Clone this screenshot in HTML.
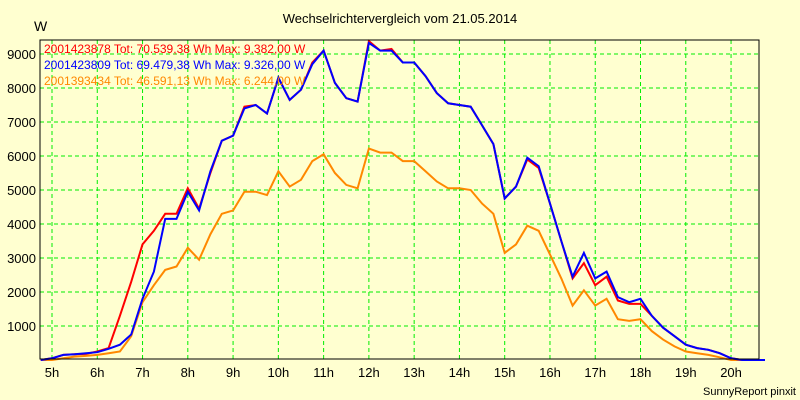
<!DOCTYPE html>
<html><head><meta charset="utf-8"><style>
body{margin:0;background:#ffffd0;}
svg{display:block;font-family:"Liberation Sans",sans-serif;}
</style></head><body>
<svg id="chart" width="800" height="400">
<rect x="0" y="0" width="800" height="400" fill="#ffffd0"/>
<text x="400" y="23" text-anchor="middle" font-size="13" fill="#000">Wechselrichtervergleich vom 21.05.2014</text>
<text x="34" y="31" font-size="14" fill="#000">W</text>
<g id="grid"></g>
<g id="series"></g>
<rect x="40" y="40" width="719" height="319" fill="none" stroke="#000" stroke-width="1"/>
<g id="labels"></g>
<text x="44" y="53" font-size="12" fill="#ff0000">2001423878 Tot: 70.539,38 Wh Max: 9.382,00 W</text>
<text x="44" y="69" font-size="12" fill="#0000ff">2001423809 Tot: 69.479,38 Wh Max: 9.326,00 W</text>
<text x="44" y="85" font-size="12" fill="#ff8800">2001393434 Tot: 46.591,13 Wh Max: 6.244,00 W</text>
<text x="796" y="395" text-anchor="end" font-size="11" fill="#000">SunnyReport pinxit</text>
</svg>
<script>
const startHour = 4.75;
const stepHours = 0.25;
const xTicks = ["5h","6h","7h","8h","9h","10h","11h","12h","13h","14h","15h","16h","17h","18h","19h","20h"];
const yTicks = [1000,2000,3000,4000,5000,6000,7000,8000,9000];
const orangeValues = [0,0,50,100,120,150,200,250,700,1700,2200,2650,2750,3300,2950,3700,4300,4400,4950,4950,4850,5550,5100,5300,5850,6050,5500,5150,5050,6220,6100,6100,5850,5850,5550,5250,5050,5050,5000,4600,4300,3150,3400,3950,3800,3100,2400,1600,2050,1600,1800,1200,1150,1200,850,600,400,250,200,150,80,0,0,0,0];
const redValues = [0,50,150,170,180,250,350,1300,2300,3400,3800,4300,4300,5050,4450,5500,6450,6600,7450,7500,7250,8300,7650,7950,8750,9100,8150,7700,7600,9380,9100,9150,8750,8750,8350,7850,7550,7500,7450,6900,6350,4750,5100,5900,5650,4600,3500,2400,2850,2200,2450,1750,1650,1650,1300,950,700,450,350,300,200,50,0,0,0];
const blueValues = [0,50,150,170,200,230,330,450,750,1800,2600,4150,4150,4950,4400,5550,6450,6600,7400,7500,7250,8300,7650,7950,8700,9100,8150,7700,7600,9326,9100,9100,8750,8750,8350,7850,7550,7500,7450,6900,6350,4750,5100,5950,5700,4600,3500,2450,3150,2400,2600,1850,1700,1800,1300,950,700,450,350,300,200,50,0,0,0];
const NS="http://www.w3.org/2000/svg";
function xScale(h){return 52+(h-5)*45.27;}
function yScale(v){return 360-v*0.034;}
const grid=document.getElementById('grid'), labels=document.getElementById('labels'), series=document.getElementById('series');
xTicks.forEach((t,i)=>{
  const x=xScale(parseInt(t));
  const l=document.createElementNS(NS,'line');
  l.setAttribute('x1',x);l.setAttribute('x2',x);l.setAttribute('y1',40);l.setAttribute('y2',359);
  l.setAttribute('stroke','#00ee00');l.setAttribute('stroke-dasharray','4,3');
  
  
  grid.appendChild(l);
  const tx=document.createElementNS(NS,'text');
  tx.setAttribute('x',x);tx.setAttribute('y',377);tx.setAttribute('text-anchor','middle');tx.setAttribute('font-size','13');
  tx.textContent=t;
  
  
  labels.appendChild(tx);
});
yTicks.forEach(v=>{
  const y=yScale(v);
  const l=document.createElementNS(NS,'line');
  l.setAttribute('x1',40);l.setAttribute('x2',759);l.setAttribute('y1',y);l.setAttribute('y2',y);
  l.setAttribute('stroke','#00ee00');l.setAttribute('stroke-dasharray','4,3');
  
  
  grid.appendChild(l);
  const tx=document.createElementNS(NS,'text');
  tx.setAttribute('x',36);tx.setAttribute('y',y+5);tx.setAttribute('text-anchor','end');tx.setAttribute('font-size','13');
  tx.textContent=v;
  
  
  labels.appendChild(tx);
});
function drawSeries(vals,color,name){
  const pts=vals.map((v,i)=>xScale(startHour+i*stepHours).toFixed(1)+','+yScale(v).toFixed(1)).join(' ');
  const p=document.createElementNS(NS,'polyline');
  p.setAttribute('points',pts);p.setAttribute('fill','none');p.setAttribute('stroke',color);p.setAttribute('stroke-width','2');
  
  
  series.appendChild(p);
}
drawSeries(orangeValues,'#ff8800','series-2001393434');
drawSeries(redValues,'#ff0000','series-2001423878');
drawSeries(blueValues,'#0000ff','series-2001423809');
</script>
</body></html>
